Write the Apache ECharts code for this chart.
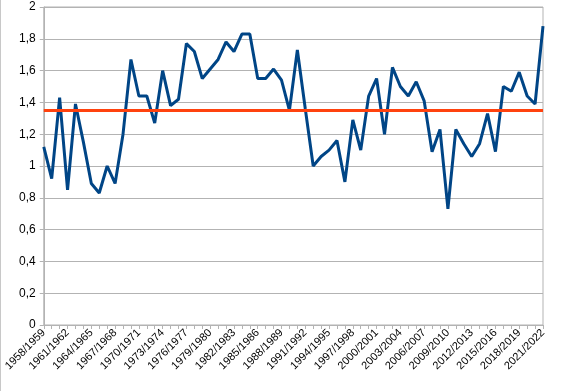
<!DOCTYPE html>
<html>
<head>
<meta charset="utf-8">
<script src="https://cdn.jsdelivr.net/npm/echarts@6/dist/echarts.min.js"></script>
<style>
html,body{margin:0;padding:0;background:#fff;}
#c{width:568px;height:391px;box-sizing:border-box;border-left:1px solid #c8c8c8;}
</style>
</head>
<body>
<div id="c"></div>
<script>
const startYears = [];
for (let y = 1958; y <= 2021; y++) startYears.push(y);
const categories = startYears.map(y => y + '/' + (y + 1));

const values = [
  1.12, 0.92, 1.43, 0.85, 1.39, 1.15, 0.89, 0.83, 1.00, 0.89,
  1.20, 1.67, 1.44, 1.44, 1.27, 1.60, 1.38, 1.42, 1.77, 1.72,
  1.55, 1.61, 1.67, 1.78, 1.72, 1.83, 1.83, 1.55, 1.55, 1.61,
  1.54, 1.35, 1.73, 1.36, 1.00, 1.06, 1.10, 1.16, 0.90, 1.29,
  1.10, 1.44, 1.55, 1.20, 1.62, 1.50, 1.44, 1.53, 1.41, 1.09,
  1.23, 0.73, 1.23, 1.14, 1.06, 1.14, 1.33, 1.09, 1.50, 1.47,
  1.59, 1.44, 1.39, 1.88
];

const referenceLevel = 1.35;
const yTicks = [0, 0.2, 0.4, 0.6, 0.8, 1, 1.2, 1.4, 1.6, 1.8, 2];

const chart = echarts.init(document.getElementById('c'), null, {renderer: 'canvas'});
chart.setOption({
  animation: false,
  backgroundColor: '#fff',
  grid: {
    left: 42, right: 25, top: 7, bottom: 66,
    show: true, borderColor: '#b3b3b3', borderWidth: 1, backgroundColor: 'transparent'
  },
  xAxis: {
    type: 'category',
    data: categories,
    boundaryGap: false,
    axisLine: {lineStyle: {color: '#b3b3b3', width: 1}},
    axisTick: {show: true, interval: 0, length: 4, lineStyle: {color: '#b3b3b3'}},
    axisLabel: {
      interval: 2, rotate: 45, margin: 6,
      fontFamily: 'Liberation Sans', fontSize: 11, color: '#000'
    },
    splitLine: {show: false}
  },
  yAxis: {
    type: 'value',
    min: yTicks[0], max: yTicks[yTicks.length - 1], interval: 0.2,
    axisLine: {show: true, lineStyle: {color: '#b3b3b3', width: 1}},
    axisTick: {show: true, length: 4, lineStyle: {color: '#b3b3b3'}},
    axisLabel: {
      margin: 8, fontFamily: 'Liberation Sans', fontSize: 12, color: '#000',
      formatter: v => String(Math.round(v * 10) / 10).replace('.', ',')
    },
    splitLine: {show: true, lineStyle: {color: '#b3b3b3', width: 1}}
  },
  series: [{
    type: 'line',
    data: values,
    symbol: 'none',
    lineStyle: {color: '#004586', width: 3},
    z: 3,
    markLine: {
      silent: true,
      symbol: 'none',
      label: {show: false},
      lineStyle: {color: '#ff420e', width: 3, type: 'solid'},
      data: [{yAxis: referenceLevel}],
      z: 4
    }
  }]
});
</script>
</body>
</html>
